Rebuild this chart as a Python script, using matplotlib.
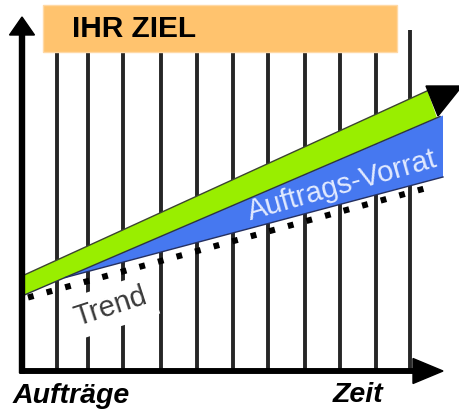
import matplotlib
matplotlib.use("Agg")
import matplotlib.pyplot as plt
from matplotlib.patches import Rectangle, Polygon
import numpy as np

# ---- data (canvas units: x to the right, y upward) ----
time_ticks = [57, 88, 123, 161, 197, 233, 268, 305, 340, 376, 410]
grid_bottom, grid_top = 42, 383

ziel_x = [22, 427.5]          # upper edge of green band ("Ziel")
ziel_y = [137, 322.3]
vorrat_x = [22, 440]          # lower edge of green / upper edge of blue
vorrat_y = [117, 296.5]
blue_x = [65, 443]            # lower edge of blue band
blue_y = [135.4, 236]
trend_x = [28, 433]           # dotted trend line
trend_y = [115.5, 226.8]
arrow_tri_x = [426, 462, 438]
arrow_tri_y = [327, 327, 297]

title_text = "IHR ZIEL"
label_trend = "Trend"
label_vorrat = "Auftrags-Vorrat"
x_label = "Zeit"
y_label = "Aufträge"

GREEN = "#99ee00"
BLUE = "#4678f0"
ORANGE = "#ffc36e"
FONT = "Liberation Sans"

fig = plt.figure(figsize=(4.59, 4.13), dpi=100)
ax = fig.add_axes([0, 0, 1, 1])
ax.set_xlim(0, 459)
ax.set_ylim(0, 413)
ax.axis("off")

# vertical time grid
ax.vlines(time_ticks, grid_bottom, grid_top, color="#262626", lw=2.8, zorder=1)

# orange target box
ax.add_patch(Rectangle((43, 361), 354, 47, facecolor=ORANGE, edgecolor="#ffd9a6",
                       lw=1.0, zorder=3))
ax.text(72, 384, title_text, fontsize=21.5, fontweight="bold", family=FONT,
        ha="left", va="center", color="black", zorder=4)

def line_at(xs, ys, x):
    return np.interp(x, xs, ys)

# green band
green_poly = [(ziel_x[0], ziel_y[0]), (ziel_x[1], ziel_y[1]),
              (437, line_at(vorrat_x, vorrat_y, 437)),
              (vorrat_x[0], vorrat_y[0])]
ax.add_patch(Polygon(green_poly, closed=True, facecolor=GREEN, edgecolor="none", zorder=5))

# blue band
blue_poly = [(blue_x[0], line_at(vorrat_x, vorrat_y, blue_x[0])),
             (blue_x[1], line_at(vorrat_x, vorrat_y, blue_x[1]) + 1),
             (blue_x[1], blue_y[1]),
             (blue_x[0], blue_y[0])]
ax.add_patch(Polygon(blue_poly, closed=True, facecolor=BLUE, edgecolor="none", zorder=5))

# dark outlines
ax.plot(ziel_x, ziel_y, color="#3c4430", lw=1.0, zorder=6)
ax.plot(vorrat_x, vorrat_y, color="#2c3440", lw=1.0, zorder=6)
ax.plot(blue_x, blue_y, color="#253060", lw=1.0, zorder=6)

# black arrow head at end of band
ax.fill(arrow_tri_x, arrow_tri_y, color="black", zorder=7)

# dotted trend
ax.plot(trend_x, trend_y, color="black", lw=4.4, linestyle=(0, (0.95, 2.2)),
        dash_capstyle="butt", zorder=8)

# labels on chart
ax.text(111, 106, label_trend, fontsize=21, family=FONT, color="#3a3a3a",
        rotation=18, rotation_mode="anchor", ha="center", va="center", zorder=7,
        bbox=dict(boxstyle="square,pad=0.25", facecolor="white", edgecolor="none"))
ax.text(342, 227, label_vorrat, fontsize=21, family=FONT, color="#e2eaff",
        rotation=16, rotation_mode="anchor", ha="center", va="center", zorder=7)

# axes with arrows
ax.arrow(22, 40, 0, 356, width=5, head_width=25, head_length=18,
         length_includes_head=True, color="black", zorder=9)
ax.arrow(20, 42, 423, 0, width=4.5, head_width=25, head_length=30,
         length_includes_head=True, color="black", zorder=9)

ax.text(13, 17, y_label, fontsize=20.5, fontweight="bold", fontstyle="italic",
        family=FONT, ha="left", va="center", color="black")
ax.text(333, 18, x_label, fontsize=20.5, fontweight="bold", fontstyle="italic",
        family=FONT, ha="left", va="center", color="black")

fig.savefig("out.png", dpi=100)
